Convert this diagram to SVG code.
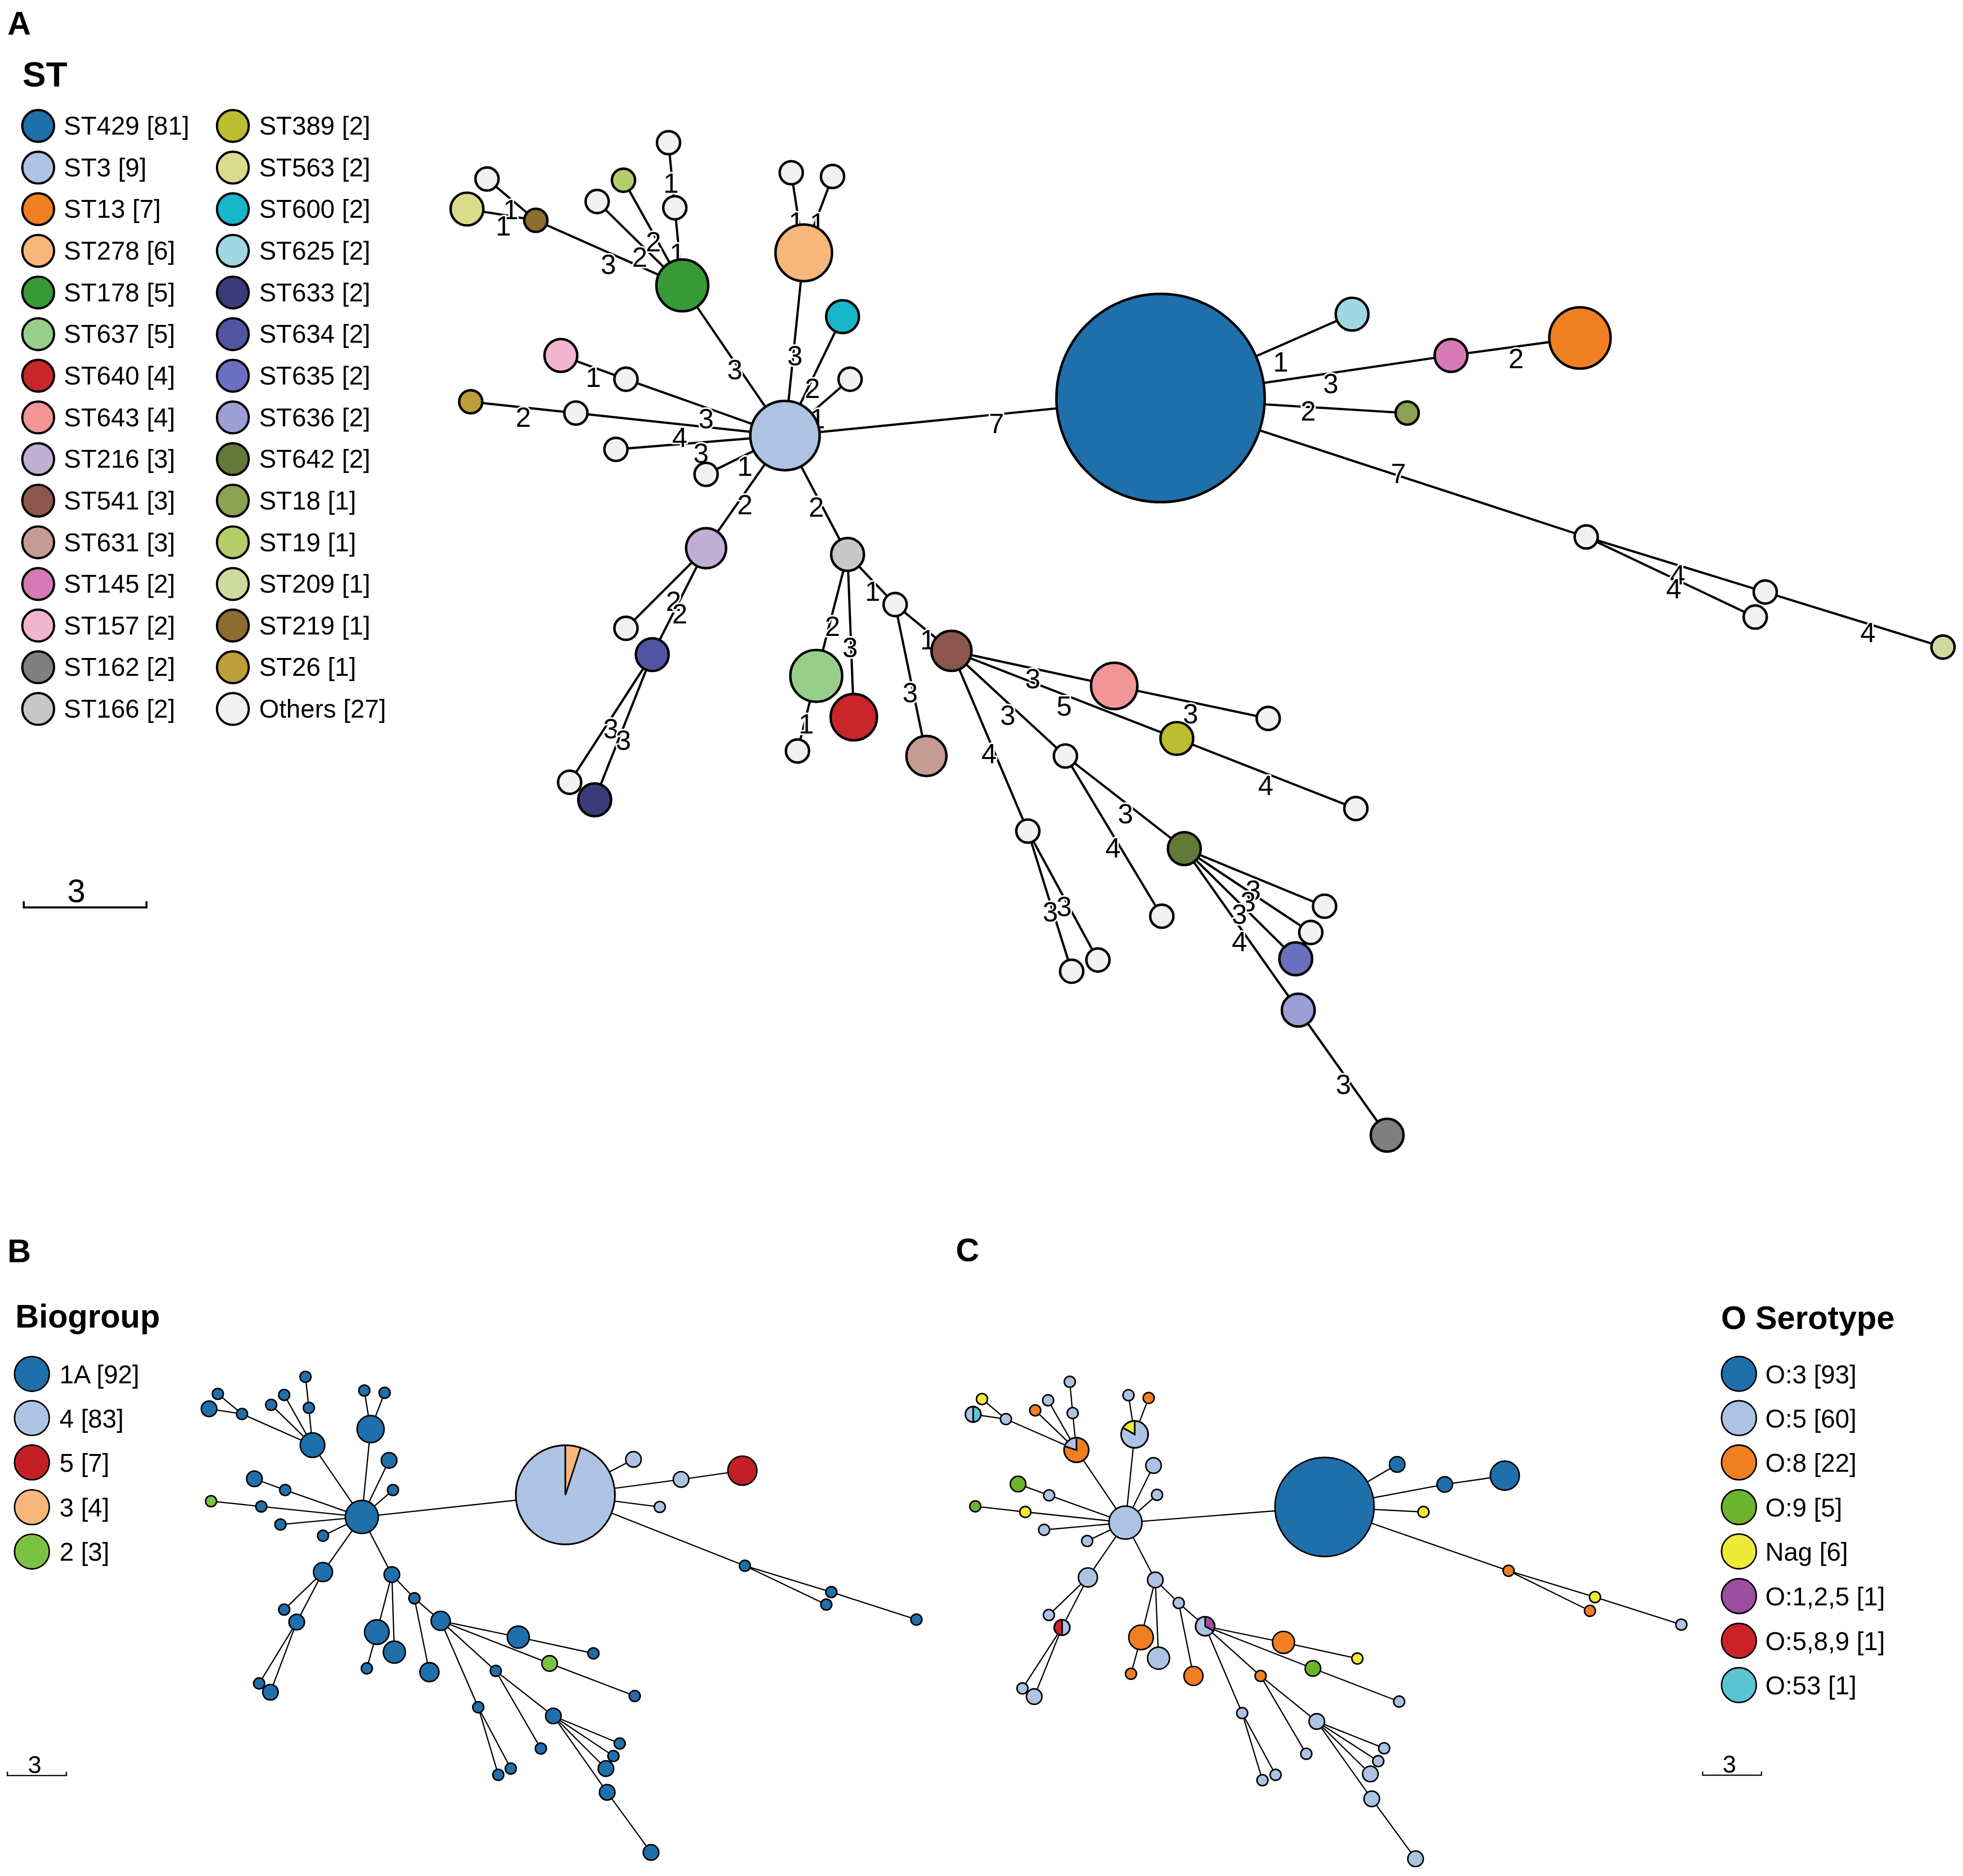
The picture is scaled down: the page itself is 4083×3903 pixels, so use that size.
<svg xmlns="http://www.w3.org/2000/svg" width="4083" height="3903" viewBox="0 0 4083 3903">
<style>
text{font-family:"Liberation Sans",Arial,Helvetica,sans-serif;fill:#000}
.h{font-weight:bold}
.pl{font-size:26px;font-weight:bold}
.lg{font-size:20.5px}
.el{font-size:22px;text-anchor:middle;stroke:#fff;stroke-width:2.5px;paint-order:stroke;stroke-linejoin:round}
.sb{font-size:19.5px;text-anchor:middle}
.ea line{stroke:#000;stroke-width:1.8}
.eb line{stroke:#000;stroke-width:1}
.na circle{stroke:#000;stroke-width:2}
.nb circle,.nb path{stroke:#000;stroke-width:1.2}
.lga circle{stroke:#000;stroke-width:1.8}
.lgb circle{stroke:#000;stroke-width:1.2}
.bar{fill:none;stroke:#000}
.c429{fill:#1f6fab}.c3{fill:#adc3e3}.c13{fill:#f07f22}.c278{fill:#f7b77a}.c178{fill:#379a37}.c637{fill:#97ce8a}
.c640{fill:#c8262a}.c643{fill:#f29597}.c216{fill:#c0aed3}.c541{fill:#8b574c}.c631{fill:#c49c94}.c145{fill:#d57ab6}
.c157{fill:#f2b5d1}.c162{fill:#7f7f7f}.c166{fill:#c7c7c7}.c389{fill:#bcbd32}.c563{fill:#dbdb8e}.c600{fill:#18b6c9}
.c625{fill:#9fd7e2}.c633{fill:#393c78}.c634{fill:#5155a1}.c635{fill:#6a6fbf}.c636{fill:#9b9fd5}.c642{fill:#637938}
.c18{fill:#8ba252}.c19{fill:#b5cd6a}.c209{fill:#cfdb9d}.c219{fill:#8d6c32}.c26{fill:#bd9e3a}.cot{fill:#f1f1f1}
.cb{fill:#1f6fab}.clb{fill:#adc3e4}.cr5{fill:#c41f26}.c3o{fill:#f7b77a}.cg2{fill:#7dc142}
.co8{fill:#f07f22}.cg9{fill:#6cb42e}.cy{fill:#eeea3a}.cp{fill:#9b4f9f}.cr{fill:#cb2229}.cc{fill:#5ac4d3}
</style>
<rect width="4083" height="3903" fill="#fff"/>
<g transform="scale(2.604)">

<!-- ================= PANEL A ================= -->
<text class="pl" x="6" y="27.5">A</text>
<text class="h" x="18" y="69" font-size="28">ST</text>
<g id="a-legend" class="lga">
<g class="c429"><circle cx="30.5" cy="100.6" r="12.7"/></g><text class="lg" x="51" y="107.6">ST429 [81]</text>
<g class="c3"><circle cx="30.5" cy="133.9" r="12.7"/></g><text class="lg" x="51" y="140.9">ST3 [9]</text>
<g class="c13"><circle cx="30.5" cy="167.1" r="12.7"/></g><text class="lg" x="51" y="174.1">ST13 [7]</text>
<g class="c278"><circle cx="30.5" cy="200.4" r="12.7"/></g><text class="lg" x="51" y="207.4">ST278 [6]</text>
<g class="c178"><circle cx="30.5" cy="233.7" r="12.7"/></g><text class="lg" x="51" y="240.7">ST178 [5]</text>
<g class="c637"><circle cx="30.5" cy="267" r="12.7"/></g><text class="lg" x="51" y="274">ST637 [5]</text>
<g class="c640"><circle cx="30.5" cy="300.2" r="12.7"/></g><text class="lg" x="51" y="307.2">ST640 [4]</text>
<g class="c643"><circle cx="30.5" cy="333.5" r="12.7"/></g><text class="lg" x="51" y="340.5">ST643 [4]</text>
<g class="c216"><circle cx="30.5" cy="366.8" r="12.7"/></g><text class="lg" x="51" y="373.8">ST216 [3]</text>
<g class="c541"><circle cx="30.5" cy="400" r="12.7"/></g><text class="lg" x="51" y="407">ST541 [3]</text>
<g class="c631"><circle cx="30.5" cy="433.3" r="12.7"/></g><text class="lg" x="51" y="440.3">ST631 [3]</text>
<g class="c145"><circle cx="30.5" cy="466.6" r="12.7"/></g><text class="lg" x="51" y="473.6">ST145 [2]</text>
<g class="c157"><circle cx="30.5" cy="499.8" r="12.7"/></g><text class="lg" x="51" y="506.8">ST157 [2]</text>
<g class="c162"><circle cx="30.5" cy="533.1" r="12.7"/></g><text class="lg" x="51" y="540.1">ST162 [2]</text>
<g class="c166"><circle cx="30.5" cy="566.4" r="12.7"/></g><text class="lg" x="51" y="573.4">ST166 [2]</text>
<g class="c389"><circle cx="186" cy="100.6" r="12.7"/></g><text class="lg" x="207" y="107.6">ST389 [2]</text>
<g class="c563"><circle cx="186" cy="133.9" r="12.7"/></g><text class="lg" x="207" y="140.9">ST563 [2]</text>
<g class="c600"><circle cx="186" cy="167.1" r="12.7"/></g><text class="lg" x="207" y="174.1">ST600 [2]</text>
<g class="c625"><circle cx="186" cy="200.4" r="12.7"/></g><text class="lg" x="207" y="207.4">ST625 [2]</text>
<g class="c633"><circle cx="186" cy="233.7" r="12.7"/></g><text class="lg" x="207" y="240.7">ST633 [2]</text>
<g class="c634"><circle cx="186" cy="267" r="12.7"/></g><text class="lg" x="207" y="274">ST634 [2]</text>
<g class="c635"><circle cx="186" cy="300.2" r="12.7"/></g><text class="lg" x="207" y="307.2">ST635 [2]</text>
<g class="c636"><circle cx="186" cy="333.5" r="12.7"/></g><text class="lg" x="207" y="340.5">ST636 [2]</text>
<g class="c642"><circle cx="186" cy="366.8" r="12.7"/></g><text class="lg" x="207" y="373.8">ST642 [2]</text>
<g class="c18"><circle cx="186" cy="400" r="12.7"/></g><text class="lg" x="207" y="407">ST18 [1]</text>
<g class="c19"><circle cx="186" cy="433.3" r="12.7"/></g><text class="lg" x="207" y="440.3">ST19 [1]</text>
<g class="c209"><circle cx="186" cy="466.6" r="12.7"/></g><text class="lg" x="207" y="473.6">ST209 [1]</text>
<g class="c219"><circle cx="186" cy="499.8" r="12.7"/></g><text class="lg" x="207" y="506.8">ST219 [1]</text>
<g class="c26"><circle cx="186" cy="533.1" r="12.7"/></g><text class="lg" x="207" y="540.1">ST26 [1]</text>
<g class="cot"><circle cx="186" cy="566.4" r="12.7"/></g><text class="lg" x="207" y="573.4">Others [27]</text>
</g>
<g id="a-scale">
<text x="61" y="721" font-size="26" text-anchor="middle">3</text>
<path class="bar" stroke-width="1.6" d="M19,720 L19,725 L117,725 L117,720"/>
</g>

<g id="a-edges" class="ea">
<line x1="627" y1="348" x2="927" y2="318"/>
<line x1="627" y1="348" x2="545" y2="228"/>
<line x1="627" y1="348" x2="642" y2="202"/>
<line x1="627" y1="348" x2="673" y2="253"/>
<line x1="627" y1="348" x2="679" y2="303"/>
<line x1="627" y1="348" x2="500" y2="303"/>
<line x1="627" y1="348" x2="460" y2="330"/>
<line x1="627" y1="348" x2="492" y2="359"/>
<line x1="627" y1="348" x2="564" y2="379"/>
<line x1="627" y1="348" x2="564" y2="438"/>
<line x1="627" y1="348" x2="677" y2="443"/>
<line x1="545" y1="228" x2="428" y2="176"/>
<line x1="545" y1="228" x2="477" y2="161"/>
<line x1="545" y1="228" x2="498" y2="144"/>
<line x1="545" y1="228" x2="539" y2="166"/>
<line x1="539" y1="166" x2="534" y2="114"/>
<line x1="428" y1="176" x2="389" y2="143"/>
<line x1="428" y1="176" x2="373" y2="167"/>
<line x1="642" y1="202" x2="632" y2="138"/>
<line x1="642" y1="202" x2="665" y2="141"/>
<line x1="500" y1="303" x2="448" y2="284"/>
<line x1="460" y1="330" x2="376" y2="321"/>
<line x1="564" y1="438" x2="500" y2="502"/>
<line x1="564" y1="438" x2="521" y2="523"/>
<line x1="521" y1="523" x2="455" y2="625"/>
<line x1="521" y1="523" x2="475" y2="639"/>
<line x1="677" y1="443" x2="652" y2="540"/>
<line x1="677" y1="443" x2="682" y2="573"/>
<line x1="677" y1="443" x2="715" y2="483"/>
<line x1="652" y1="540" x2="637" y2="600"/>
<line x1="715" y1="483" x2="760" y2="520"/>
<line x1="715" y1="483" x2="740" y2="604"/>
<line x1="760" y1="520" x2="890" y2="548"/>
<line x1="760" y1="520" x2="940" y2="590"/>
<line x1="760" y1="520" x2="851" y2="604"/>
<line x1="760" y1="520" x2="821" y2="664"/>
<line x1="890" y1="548" x2="1013" y2="574"/>
<line x1="940" y1="590" x2="1083" y2="646"/>
<line x1="851" y1="604" x2="946" y2="678"/>
<line x1="851" y1="604" x2="928" y2="732"/>
<line x1="821" y1="664" x2="856" y2="776"/>
<line x1="821" y1="664" x2="877" y2="767"/>
<line x1="946" y1="678" x2="1058" y2="724"/>
<line x1="946" y1="678" x2="1047" y2="745"/>
<line x1="946" y1="678" x2="1035" y2="766"/>
<line x1="946" y1="678" x2="1037" y2="807"/>
<line x1="1037" y1="807" x2="1108" y2="907"/>
<line x1="927" y1="318" x2="1080" y2="251"/>
<line x1="927" y1="318" x2="1159" y2="284"/>
<line x1="927" y1="318" x2="1124" y2="330"/>
<line x1="927" y1="318" x2="1267" y2="429"/>
<line x1="1159" y1="284" x2="1262" y2="270"/>
<line x1="1267" y1="429" x2="1410" y2="473"/>
<line x1="1267" y1="429" x2="1402" y2="493"/>
<line x1="1410" y1="473" x2="1552" y2="517"/>
</g>
<g id="a-edge-labels">
<text class="el" x="796" y="346">7</text>
<text class="el" x="587" y="303">3</text>
<text class="el" x="635" y="292">3</text>
<text class="el" x="649" y="318">2</text>
<text class="el" x="653" y="342">1</text>
<text class="el" x="564" y="342">3</text>
<text class="el" x="543" y="357">4</text>
<text class="el" x="560" y="370">3</text>
<text class="el" x="595" y="380">1</text>
<text class="el" x="595" y="411">2</text>
<text class="el" x="652" y="413">2</text>
<text class="el" x="486" y="219">3</text>
<text class="el" x="511" y="213">2</text>
<text class="el" x="522" y="201">2</text>
<text class="el" x="541" y="210">1</text>
<text class="el" x="536" y="154">1</text>
<text class="el" x="408" y="175">1</text>
<text class="el" x="402" y="188">1</text>
<text class="el" x="636" y="185">1</text>
<text class="el" x="653" y="186">1</text>
<text class="el" x="474" y="309">1</text>
<text class="el" x="418" y="341">2</text>
<text class="el" x="538" y="488">2</text>
<text class="el" x="543" y="498">2</text>
<text class="el" x="488" y="590">3</text>
<text class="el" x="498" y="599">3</text>
<text class="el" x="665" y="508">2</text>
<text class="el" x="679" y="525">3</text>
<text class="el" x="697" y="480">1</text>
<text class="el" x="644" y="586">1</text>
<text class="el" x="741" y="519">1</text>
<text class="el" x="727" y="561">3</text>
<text class="el" x="825" y="550">3</text>
<text class="el" x="850" y="572">5</text>
<text class="el" x="805" y="579">3</text>
<text class="el" x="790" y="610">4</text>
<text class="el" x="951" y="578">3</text>
<text class="el" x="1011" y="635">4</text>
<text class="el" x="899" y="658">3</text>
<text class="el" x="889" y="685">4</text>
<text class="el" x="839" y="736">3</text>
<text class="el" x="850" y="732">3</text>
<text class="el" x="1001" y="719">3</text>
<text class="el" x="997" y="728">3</text>
<text class="el" x="990" y="738">3</text>
<text class="el" x="990" y="760">4</text>
<text class="el" x="1073" y="874">3</text>
<text class="el" x="1023" y="297">1</text>
<text class="el" x="1063" y="314">3</text>
<text class="el" x="1045" y="336">2</text>
<text class="el" x="1117" y="386">7</text>
<text class="el" x="1211" y="294">2</text>
<text class="el" x="1340" y="467">4</text>
<text class="el" x="1337" y="478">4</text>
<text class="el" x="1492" y="513">4</text>
</g>
<g id="a-nodes" class="na">
<g id="a-w679" class="cot"><circle cx="679" cy="303" r="9.24"/></g>
<g id="a-w500" class="cot"><circle cx="500" cy="303" r="9.24"/></g>
<g id="a-w460" class="cot"><circle cx="460" cy="330" r="9.24"/></g>
<g id="a-w493" class="cot"><circle cx="492" cy="359" r="9.24"/></g>
<g id="a-w564" class="cot"><circle cx="564" cy="379" r="9.24"/></g>
<g id="a-w499" class="cot"><circle cx="500" cy="502" r="9.24"/></g>
<g id="a-w455" class="cot"><circle cx="455" cy="625" r="9.24"/></g>
<g id="a-w637" class="cot"><circle cx="637" cy="600" r="9.24"/></g>
<g id="a-w715" class="cot"><circle cx="715" cy="483" r="9.24"/></g>
<g id="a-w1013" class="cot"><circle cx="1013" cy="574" r="9.24"/></g>
<g id="a-w1083" class="cot"><circle cx="1083" cy="646" r="9.24"/></g>
<g id="a-w851" class="cot"><circle cx="851" cy="604" r="9.24"/></g>
<g id="a-w821" class="cot"><circle cx="821" cy="664" r="9.24"/></g>
<g id="a-w856" class="cot"><circle cx="856" cy="776" r="9.24"/></g>
<g id="a-w877" class="cot"><circle cx="877" cy="767" r="9.24"/></g>
<g id="a-w928" class="cot"><circle cx="928" cy="732" r="9.24"/></g>
<g id="a-w1058" class="cot"><circle cx="1058" cy="724" r="9.24"/></g>
<g id="a-w1047" class="cot"><circle cx="1047" cy="745" r="9.24"/></g>
<g id="a-w1267" class="cot"><circle cx="1267" cy="429" r="9.24"/></g>
<g id="a-w1410" class="cot"><circle cx="1410" cy="473" r="9.24"/></g>
<g id="a-w1402" class="cot"><circle cx="1402" cy="493" r="9.24"/></g>
<g id="a-w389" class="cot"><circle cx="389" cy="143" r="9.24"/></g>
<g id="a-w477" class="cot"><circle cx="477" cy="161" r="9.24"/></g>
<g id="a-w534" class="cot"><circle cx="534" cy="114" r="9.24"/></g>
<g id="a-w539" class="cot"><circle cx="539" cy="166" r="9.24"/></g>
<g id="a-w632" class="cot"><circle cx="632" cy="138" r="9.24"/></g>
<g id="a-w664" class="cot"><circle cx="665" cy="141" r="9.24"/></g>
<g id="a-st429" class="c429"><circle cx="927" cy="318" r="83.2"/></g>
<g id="a-st3" class="c3"><circle cx="627" cy="348" r="27.7"/></g>
<g id="a-st13" class="c13"><circle cx="1262" cy="270" r="24.5"/></g>
<g id="a-st278" class="c278"><circle cx="642" cy="202" r="22.6"/></g>
<g id="a-st178" class="c178"><circle cx="545" cy="228" r="20.7"/></g>
<g id="a-st637" class="c637"><circle cx="652" cy="540" r="20.7"/></g>
<g id="a-st640" class="c640"><circle cx="682" cy="573" r="18.5"/></g>
<g id="a-st643" class="c643"><circle cx="890" cy="548" r="18.5"/></g>
<g id="a-st216" class="c216"><circle cx="564" cy="438" r="16"/></g>
<g id="a-st541" class="c541"><circle cx="760" cy="520" r="16"/></g>
<g id="a-st631" class="c631"><circle cx="740" cy="604" r="16"/></g>
<g id="a-st145" class="c145"><circle cx="1159" cy="284" r="13.1"/></g>
<g id="a-st157" class="c157"><circle cx="448" cy="284" r="13.1"/></g>
<g id="a-st162" class="c162"><circle cx="1108" cy="907" r="13.1"/></g>
<g id="a-st166" class="c166"><circle cx="677" cy="443" r="13.1"/></g>
<g id="a-st389" class="c389"><circle cx="940" cy="590" r="13.1"/></g>
<g id="a-st563" class="c563"><circle cx="373" cy="167" r="13.1"/></g>
<g id="a-st600" class="c600"><circle cx="673" cy="253" r="13.1"/></g>
<g id="a-st625" class="c625"><circle cx="1080" cy="251" r="13.1"/></g>
<g id="a-st633" class="c633"><circle cx="475" cy="639" r="13.1"/></g>
<g id="a-st634" class="c634"><circle cx="521" cy="523" r="13.1"/></g>
<g id="a-st635" class="c635"><circle cx="1035" cy="766" r="13.1"/></g>
<g id="a-st636" class="c636"><circle cx="1037" cy="807" r="13.1"/></g>
<g id="a-st642" class="c642"><circle cx="946" cy="678" r="13.1"/></g>
<g id="a-st18" class="c18"><circle cx="1124" cy="330" r="9.24"/></g>
<g id="a-st19" class="c19"><circle cx="498" cy="144" r="9.24"/></g>
<g id="a-st209" class="c209"><circle cx="1552" cy="517" r="9.24"/></g>
<g id="a-st219" class="c219"><circle cx="428" cy="176" r="9.24"/></g>
<g id="a-st26" class="c26"><circle cx="376" cy="321" r="9.24"/></g>
</g>

<!-- ================= PANEL B ================= -->
<text class="pl" x="6" y="1008.5">B</text>
<text class="h" x="12.3" y="1060.5" font-size="26">Biogroup</text>
<g id="b-legend" class="lgb">
<g class="cb"><circle cx="25.5" cy="1097.7" r="13.9"/></g><text class="lg" x="47.5" y="1105.2">1A [92]</text>
<g class="clb"><circle cx="25.5" cy="1133" r="13.9"/></g><text class="lg" x="47.5" y="1140.5">4 [83]</text>
<g class="cr5"><circle cx="25.5" cy="1168.4" r="13.9"/></g><text class="lg" x="47.5" y="1175.9">5 [7]</text>
<g class="c3o"><circle cx="25.5" cy="1204.2" r="13.9"/></g><text class="lg" x="47.5" y="1211.7">3 [4]</text>
<g class="cg2"><circle cx="25.5" cy="1239.6" r="13.9"/></g><text class="lg" x="47.5" y="1247.1">2 [3]</text>
</g>
<g id="b-scale">
<text class="sb" x="27.7" y="1416.5">3</text>
<path class="bar" stroke-width="1" d="M5.9,1415.5 L5.9,1418.6 L53,1418.6 L53,1415.5"/>
</g>
<g id="b-edges" class="eb">
<line x1="289" y1="1212" x2="451.6" y2="1194.3"/>
<line x1="289" y1="1212" x2="249.6" y2="1154.6"/>
<line x1="289" y1="1212" x2="296" y2="1141.8"/>
<line x1="289" y1="1212" x2="310.8" y2="1166.8"/>
<line x1="289" y1="1212" x2="313.9" y2="1190.5"/>
<line x1="289" y1="1212" x2="227.8" y2="1190.5"/>
<line x1="289" y1="1212" x2="208.7" y2="1203.6"/>
<line x1="289" y1="1212" x2="224" y2="1218"/>
<line x1="289" y1="1212" x2="258" y2="1227"/>
<line x1="289" y1="1212" x2="258" y2="1256"/>
<line x1="289" y1="1212" x2="313" y2="1258"/>
<line x1="249.6" y1="1154.6" x2="193.3" y2="1129.7"/>
<line x1="249.6" y1="1154.6" x2="216.6" y2="1122.4"/>
<line x1="249.6" y1="1154.6" x2="227" y2="1114.5"/>
<line x1="249.6" y1="1154.6" x2="246.7" y2="1124.8"/>
<line x1="246.7" y1="1124.8" x2="244" y2="1100"/>
<line x1="193.3" y1="1129.7" x2="174" y2="1113.7"/>
<line x1="193.3" y1="1129.7" x2="167" y2="1125.6"/>
<line x1="296" y1="1141.8" x2="291" y2="1111"/>
<line x1="296" y1="1141.8" x2="307.2" y2="1112.8"/>
<line x1="227.8" y1="1190.5" x2="203.2" y2="1181.5"/>
<line x1="208.7" y1="1203.6" x2="168.6" y2="1199.4"/>
<line x1="258" y1="1256" x2="227" y2="1286"/>
<line x1="258" y1="1256" x2="237" y2="1296"/>
<line x1="237" y1="1296" x2="207" y2="1345"/>
<line x1="237" y1="1296" x2="216" y2="1352"/>
<line x1="313" y1="1258" x2="301" y2="1304"/>
<line x1="313" y1="1258" x2="315" y2="1320"/>
<line x1="313" y1="1258" x2="331" y2="1277"/>
<line x1="301" y1="1304" x2="293" y2="1333"/>
<line x1="331" y1="1277" x2="352" y2="1295"/>
<line x1="331" y1="1277" x2="343" y2="1336"/>
<line x1="352" y1="1295" x2="414" y2="1308"/>
<line x1="352" y1="1295" x2="439" y2="1329"/>
<line x1="352" y1="1295" x2="396" y2="1335"/>
<line x1="352" y1="1295" x2="382" y2="1364"/>
<line x1="414" y1="1308" x2="474" y2="1321"/>
<line x1="439" y1="1329" x2="507" y2="1355"/>
<line x1="396" y1="1335" x2="442" y2="1371"/>
<line x1="396" y1="1335" x2="432" y2="1397"/>
<line x1="382" y1="1364" x2="398" y2="1418"/>
<line x1="382" y1="1364" x2="408" y2="1413"/>
<line x1="442" y1="1371" x2="495" y2="1393"/>
<line x1="442" y1="1371" x2="490" y2="1403"/>
<line x1="442" y1="1371" x2="484" y2="1413"/>
<line x1="442" y1="1371" x2="485" y2="1432"/>
<line x1="485" y1="1432" x2="520" y2="1480"/>
<line x1="451.6" y1="1194.3" x2="506" y2="1166"/>
<line x1="451.6" y1="1194.3" x2="544" y2="1182"/>
<line x1="451.6" y1="1194.3" x2="527" y2="1204"/>
<line x1="451.6" y1="1194.3" x2="595" y2="1251"/>
<line x1="544" y1="1182" x2="593" y2="1175"/>
<line x1="595" y1="1251" x2="664" y2="1272"/>
<line x1="595" y1="1251" x2="660" y2="1282"/>
<line x1="664" y1="1272" x2="732" y2="1294"/>
</g>
<g id="b-nodes" class="nb">
<g id="b-w679" class="cb"><circle cx="313.9" cy="1190.5" r="4.4"/></g>
<g id="b-w500" class="cb"><circle cx="227.8" cy="1190.5" r="4.4"/></g>
<g id="b-w460" class="cb"><circle cx="208.7" cy="1203.6" r="4.4"/></g>
<g id="b-w493" class="cb"><circle cx="224" cy="1218" r="4.4"/></g>
<g id="b-w564" class="cb"><circle cx="258" cy="1227" r="4.4"/></g>
<g id="b-w499" class="cb"><circle cx="227" cy="1286" r="4.4"/></g>
<g id="b-w455" class="cb"><circle cx="207" cy="1345" r="4.4"/></g>
<g id="b-w637" class="cb"><circle cx="293" cy="1333" r="4.4"/></g>
<g id="b-w715" class="cb"><circle cx="331" cy="1277" r="4.4"/></g>
<g id="b-w1013" class="cb"><circle cx="474" cy="1321" r="4.4"/></g>
<g id="b-w1083" class="cb"><circle cx="507" cy="1355" r="4.4"/></g>
<g id="b-w851" class="cb"><circle cx="396" cy="1335" r="4.4"/></g>
<g id="b-w821" class="cb"><circle cx="382" cy="1364" r="4.4"/></g>
<g id="b-w856" class="cb"><circle cx="398" cy="1418" r="4.4"/></g>
<g id="b-w877" class="cb"><circle cx="408" cy="1413" r="4.4"/></g>
<g id="b-w928" class="cb"><circle cx="432" cy="1397" r="4.4"/></g>
<g id="b-w1058" class="cb"><circle cx="495" cy="1393" r="4.4"/></g>
<g id="b-w1047" class="cb"><circle cx="490" cy="1403" r="4.4"/></g>
<g id="b-w1267" class="cb"><circle cx="595" cy="1251" r="4.4"/></g>
<g id="b-w1410" class="cb"><circle cx="664" cy="1272" r="4.4"/></g>
<g id="b-w1402" class="cb"><circle cx="660" cy="1282" r="4.4"/></g>
<g id="b-w389" class="cb"><circle cx="174" cy="1113.7" r="4.4"/></g>
<g id="b-w477" class="cb"><circle cx="216.6" cy="1122.4" r="4.4"/></g>
<g id="b-w534" class="cb"><circle cx="244" cy="1100" r="4.4"/></g>
<g id="b-w539" class="cb"><circle cx="246.7" cy="1124.8" r="4.4"/></g>
<g id="b-w632" class="cb"><circle cx="291" cy="1111" r="4.4"/></g>
<g id="b-w664" class="cb"><circle cx="307.2" cy="1112.8" r="4.4"/></g>
<g id="b-st429">
<path class="clb" d="M451.6,1194.3 L463.84,1156.64 A39.6,39.6 0 1 1 451.6,1154.7 Z"/>
<path class="c3o" d="M451.6,1194.3 L451.6,1154.7 A39.6,39.6 0 0 1 463.84,1156.64 Z"/>
<circle cx="451.6" cy="1194.3" r="39.6" fill="none"/>
</g>
<g id="b-st3" class="cb"><circle cx="289" cy="1212" r="13.2"/></g>
<g id="b-st13" class="cr5"><circle cx="593" cy="1175" r="11.6"/></g>
<g id="b-st278" class="cb"><circle cx="296" cy="1141.8" r="10.8"/></g>
<g id="b-st178" class="cb"><circle cx="249.6" cy="1154.6" r="9.8"/></g>
<g id="b-st637" class="cb"><circle cx="301" cy="1304" r="9.8"/></g>
<g id="b-st640" class="cb"><circle cx="315" cy="1320" r="8.8"/></g>
<g id="b-st643" class="cb"><circle cx="414" cy="1308" r="8.8"/></g>
<g id="b-st216" class="cb"><circle cx="258" cy="1256" r="7.6"/></g>
<g id="b-st541" class="cb"><circle cx="352" cy="1295" r="7.6"/></g>
<g id="b-st631" class="cb"><circle cx="343" cy="1336" r="7.6"/></g>
<g id="b-st145" class="clb"><circle cx="544" cy="1182" r="6.2"/></g>
<g id="b-st157" class="cb"><circle cx="203.2" cy="1181.5" r="6.2"/></g>
<g id="b-st162" class="cb"><circle cx="520" cy="1480" r="6.2"/></g>
<g id="b-st166" class="cb"><circle cx="313" cy="1258" r="6.2"/></g>
<g id="b-st389" class="cg2"><circle cx="439" cy="1329" r="6.2"/></g>
<g id="b-st563" class="cb"><circle cx="167" cy="1125.6" r="6.2"/></g>
<g id="b-st600" class="cb"><circle cx="310.8" cy="1166.8" r="6.2"/></g>
<g id="b-st625" class="clb"><circle cx="506" cy="1166" r="6.2"/></g>
<g id="b-st633" class="cb"><circle cx="216" cy="1352" r="6.2"/></g>
<g id="b-st634" class="cb"><circle cx="237" cy="1296" r="6.2"/></g>
<g id="b-st635" class="cb"><circle cx="484" cy="1413" r="6.2"/></g>
<g id="b-st636" class="cb"><circle cx="485" cy="1432" r="6.2"/></g>
<g id="b-st642" class="cb"><circle cx="442" cy="1371" r="6.2"/></g>
<g id="b-st18" class="clb"><circle cx="527" cy="1204" r="4.4"/></g>
<g id="b-st19" class="cb"><circle cx="227" cy="1114.5" r="4.4"/></g>
<g id="b-st209" class="cb"><circle cx="732" cy="1294" r="4.4"/></g>
<g id="b-st219" class="cb"><circle cx="193.3" cy="1129.7" r="4.4"/></g>
<g id="b-st26" class="cg2"><circle cx="168.6" cy="1199.4" r="4.4"/></g>
</g>

<!-- ================= PANEL C ================= -->
<text class="pl" x="763.4" y="1007.8">C</text>
<text class="h" x="1374.7" y="1062" font-size="26">O Serotype</text>
<g id="c-legend" class="lgb">
<g class="cb"><circle cx="1389" cy="1097.6" r="13.9"/></g><text class="lg" x="1410" y="1105.1">O:3 [93]</text>
<g class="clb"><circle cx="1389" cy="1133" r="13.9"/></g><text class="lg" x="1410" y="1140.5">O:5 [60]</text>
<g class="co8"><circle cx="1389" cy="1168.4" r="13.9"/></g><text class="lg" x="1410" y="1175.9">O:8 [22]</text>
<g class="cg9"><circle cx="1389" cy="1204.1" r="13.9"/></g><text class="lg" x="1410" y="1211.6">O:9 [5]</text>
<g class="cy"><circle cx="1389" cy="1239.5" r="13.9"/></g><text class="lg" x="1410" y="1247">Nag [6]</text>
<g class="cp"><circle cx="1389" cy="1275.2" r="13.9"/></g><text class="lg" x="1410" y="1282.7">O:1,2,5 [1]</text>
<g class="cr"><circle cx="1389" cy="1310.9" r="13.9"/></g><text class="lg" x="1410" y="1318.4">O:5,8,9 [1]</text>
<g class="cc"><circle cx="1389" cy="1346.3" r="13.9"/></g><text class="lg" x="1410" y="1353.8">O:53 [1]</text>
</g>
<g id="c-scale">
<text class="sb" x="1381.4" y="1416.4">3</text>
<path class="bar" stroke-width="1" d="M1360,1415.3 L1360,1418.3 L1407,1418.3 L1407,1415.3"/>
</g>
<g id="c-edges" class="eb">
<line x1="899" y1="1216.5" x2="1058" y2="1204"/>
<line x1="899" y1="1216.5" x2="859.8" y2="1158.5"/>
<line x1="899" y1="1216.5" x2="906.3" y2="1146"/>
<line x1="899" y1="1216.5" x2="921.4" y2="1170.9"/>
<line x1="899" y1="1216.5" x2="924.2" y2="1194.3"/>
<line x1="899" y1="1216.5" x2="838" y2="1194.7"/>
<line x1="899" y1="1216.5" x2="819" y2="1208"/>
<line x1="899" y1="1216.5" x2="834" y2="1222.3"/>
<line x1="899" y1="1216.5" x2="868.4" y2="1231.2"/>
<line x1="899" y1="1216.5" x2="869" y2="1260.3"/>
<line x1="899" y1="1216.5" x2="922.8" y2="1262.3"/>
<line x1="859.8" y1="1158.5" x2="803.5" y2="1133.8"/>
<line x1="859.8" y1="1158.5" x2="826.9" y2="1126.8"/>
<line x1="859.8" y1="1158.5" x2="837.2" y2="1118.8"/>
<line x1="859.8" y1="1158.5" x2="856.8" y2="1129"/>
<line x1="856.8" y1="1129" x2="854.5" y2="1104"/>
<line x1="803.5" y1="1133.8" x2="784.4" y2="1117.8"/>
<line x1="803.5" y1="1133.8" x2="777.3" y2="1130"/>
<line x1="906.3" y1="1146" x2="901.4" y2="1114.7"/>
<line x1="906.3" y1="1146" x2="917.5" y2="1116.9"/>
<line x1="838" y1="1194.7" x2="813.2" y2="1185.7"/>
<line x1="819" y1="1208" x2="779" y2="1203.5"/>
<line x1="869" y1="1260.3" x2="837.8" y2="1290.3"/>
<line x1="869" y1="1260.3" x2="848.3" y2="1300.3"/>
<line x1="848.3" y1="1300.3" x2="816.7" y2="1349"/>
<line x1="848.3" y1="1300.3" x2="826.1" y2="1355.5"/>
<line x1="922.8" y1="1262.3" x2="911.4" y2="1308.2"/>
<line x1="922.8" y1="1262.3" x2="925.4" y2="1324.8"/>
<line x1="922.8" y1="1262.3" x2="941.5" y2="1280.7"/>
<line x1="911.4" y1="1308.2" x2="903.4" y2="1337.3"/>
<line x1="941.5" y1="1280.7" x2="962.6" y2="1299.3"/>
<line x1="941.5" y1="1280.7" x2="953.3" y2="1339"/>
<line x1="962.6" y1="1299.3" x2="1025.2" y2="1312.2"/>
<line x1="962.6" y1="1299.3" x2="1048.7" y2="1333"/>
<line x1="962.6" y1="1299.3" x2="1006.9" y2="1339"/>
<line x1="962.6" y1="1299.3" x2="992.2" y2="1368.7"/>
<line x1="1025.2" y1="1312.2" x2="1084.2" y2="1325.1"/>
<line x1="1048.7" y1="1333" x2="1117.6" y2="1359.5"/>
<line x1="1006.9" y1="1339" x2="1051.8" y2="1375.4"/>
<line x1="1006.9" y1="1339" x2="1043.4" y2="1401.2"/>
<line x1="992.2" y1="1368.7" x2="1008.4" y2="1422.3"/>
<line x1="992.2" y1="1368.7" x2="1018.9" y2="1418"/>
<line x1="1051.8" y1="1375.4" x2="1105.6" y2="1396.8"/>
<line x1="1051.8" y1="1375.4" x2="1100.9" y2="1407.1"/>
<line x1="1051.8" y1="1375.4" x2="1094.6" y2="1417.3"/>
<line x1="1051.8" y1="1375.4" x2="1095.7" y2="1437.2"/>
<line x1="1095.7" y1="1437.2" x2="1130.7" y2="1485.1"/>
<line x1="1058" y1="1204" x2="1116" y2="1170"/>
<line x1="1058" y1="1204" x2="1154" y2="1186"/>
<line x1="1058" y1="1204" x2="1137" y2="1208"/>
<line x1="1058" y1="1204" x2="1205" y2="1255"/>
<line x1="1154" y1="1186" x2="1202" y2="1179"/>
<line x1="1205" y1="1255" x2="1274" y2="1276"/>
<line x1="1205" y1="1255" x2="1270" y2="1287"/>
<line x1="1274" y1="1276" x2="1343" y2="1298"/>
</g>
<g id="c-nodes" class="nb">
<g id="c-w679" class="clb"><circle cx="924.2" cy="1194.3" r="4.4"/></g>
<g id="c-w500" class="clb"><circle cx="838" cy="1194.7" r="4.4"/></g>
<g id="c-w460" class="cy"><circle cx="819" cy="1208" r="4.4"/></g>
<g id="c-w493" class="clb"><circle cx="834" cy="1222.3" r="4.4"/></g>
<g id="c-w564" class="clb"><circle cx="868.4" cy="1231.2" r="4.4"/></g>
<g id="c-w499" class="clb"><circle cx="837.8" cy="1290.3" r="4.4"/></g>
<g id="c-w455" class="clb"><circle cx="816.7" cy="1349" r="4.4"/></g>
<g id="c-w637" class="co8"><circle cx="903.4" cy="1337.3" r="4.4"/></g>
<g id="c-w715" class="clb"><circle cx="941.5" cy="1280.7" r="4.4"/></g>
<g id="c-w1013" class="cy"><circle cx="1084.2" cy="1325.1" r="4.4"/></g>
<g id="c-w1083" class="clb"><circle cx="1117.6" cy="1359.5" r="4.4"/></g>
<g id="c-w851" class="co8"><circle cx="1006.9" cy="1339" r="4.4"/></g>
<g id="c-w821" class="clb"><circle cx="992.2" cy="1368.7" r="4.4"/></g>
<g id="c-w856" class="clb"><circle cx="1008.4" cy="1422.3" r="4.4"/></g>
<g id="c-w877" class="clb"><circle cx="1018.9" cy="1418" r="4.4"/></g>
<g id="c-w928" class="clb"><circle cx="1043.4" cy="1401.2" r="4.4"/></g>
<g id="c-w1058" class="clb"><circle cx="1105.6" cy="1396.8" r="4.4"/></g>
<g id="c-w1047" class="clb"><circle cx="1100.9" cy="1407.1" r="4.4"/></g>
<g id="c-w1267" class="co8"><circle cx="1205" cy="1255" r="4.4"/></g>
<g id="c-w1410" class="cy"><circle cx="1274" cy="1276" r="4.4"/></g>
<g id="c-w1402" class="co8"><circle cx="1270" cy="1287" r="4.4"/></g>
<g id="c-w389" class="cy"><circle cx="784.4" cy="1117.8" r="4.4"/></g>
<g id="c-w477" class="co8"><circle cx="826.9" cy="1126.8" r="4.4"/></g>
<g id="c-w534" class="clb"><circle cx="854.5" cy="1104" r="4.4"/></g>
<g id="c-w539" class="clb"><circle cx="856.8" cy="1129" r="4.4"/></g>
<g id="c-w632" class="clb"><circle cx="901.4" cy="1114.7" r="4.4"/></g>
<g id="c-w664" class="co8"><circle cx="917.5" cy="1116.9" r="4.4"/></g>
<g id="c-st429" class="cb"><circle cx="1058" cy="1204" r="39.6"/></g>
<g id="c-st3" class="clb"><circle cx="899" cy="1216.5" r="13.2"/></g>
<g id="c-st13" class="cb"><circle cx="1202" cy="1179" r="11.6"/></g>
<g id="c-st278">
<path class="clb" d="M906.3,1146 L906.3,1135.22 A10.78,10.78 0 1 1 896.96,1140.61 Z"/>
<path class="cy" d="M906.3,1146 L896.96,1140.61 A10.78,10.78 0 0 1 906.3,1135.22 Z"/>
<circle cx="906.3" cy="1146" r="10.78" fill="none"/>
</g>
<g id="c-st178">
<path class="co8" d="M859.8,1158.5 L859.8,1148.66 A9.84,9.84 0 1 1 850.44,1155.46 Z"/>
<path class="clb" d="M859.8,1158.5 L850.44,1155.46 A9.84,9.84 0 0 1 859.8,1148.66 Z"/>
<circle cx="859.8" cy="1158.5" r="9.84" fill="none"/>
</g>
<g id="c-st637" class="co8"><circle cx="911.4" cy="1308.2" r="9.8"/></g>
<g id="c-st640" class="clb"><circle cx="925.4" cy="1324.8" r="8.8"/></g>
<g id="c-st643" class="co8"><circle cx="1025.2" cy="1312.2" r="8.8"/></g>
<g id="c-st216" class="clb"><circle cx="869" cy="1260.3" r="7.6"/></g>
<g id="c-st541">
<path class="cp" d="M962.6,1299.3 L962.6,1291.68 A7.62,7.62 0 0 1 969.2,1303.11 Z"/>
<path class="clb" d="M962.6,1299.3 L969.2,1303.11 A7.62,7.62 0 1 1 962.6,1291.68 Z"/>
<circle cx="962.6" cy="1299.3" r="7.62" fill="none"/>
</g>
<g id="c-st631" class="co8"><circle cx="953.3" cy="1339" r="7.6"/></g>
<g id="c-st145" class="cb"><circle cx="1154" cy="1186" r="6.2"/></g>
<g id="c-st157" class="cg9"><circle cx="813.2" cy="1185.7" r="6.2"/></g>
<g id="c-st162" class="clb"><circle cx="1130.7" cy="1485.1" r="6.2"/></g>
<g id="c-st166" class="clb"><circle cx="922.8" cy="1262.3" r="6.2"/></g>
<g id="c-st389" class="cg9"><circle cx="1048.7" cy="1333" r="6.2"/></g>
<g id="c-st563">
<path class="cc" d="M777.3,1123.78 A6.22,6.22 0 0 1 777.3,1136.22 Z"/>
<path class="clb" d="M777.3,1136.22 A6.22,6.22 0 0 1 777.3,1123.78 Z"/>
<circle cx="777.3" cy="1130" r="6.22" fill="none"/>
</g>
<g id="c-st600" class="clb"><circle cx="921.4" cy="1170.9" r="6.2"/></g>
<g id="c-st625" class="cb"><circle cx="1116" cy="1170" r="6.2"/></g>
<g id="c-st633" class="clb"><circle cx="826.1" cy="1355.5" r="6.2"/></g>
<g id="c-st634">
<path class="clb" d="M848.3,1294.08 A6.22,6.22 0 0 1 848.3,1306.52 Z"/>
<path class="cr" d="M848.3,1306.52 A6.22,6.22 0 0 1 848.3,1294.08 Z"/>
<circle cx="848.3" cy="1300.3" r="6.22" fill="none"/>
</g>
<g id="c-st635" class="clb"><circle cx="1094.6" cy="1417.3" r="6.2"/></g>
<g id="c-st636" class="clb"><circle cx="1095.7" cy="1437.2" r="6.2"/></g>
<g id="c-st642" class="clb"><circle cx="1051.8" cy="1375.4" r="6.2"/></g>
<g id="c-st18" class="cy"><circle cx="1137" cy="1208" r="4.4"/></g>
<g id="c-st19" class="clb"><circle cx="837.2" cy="1118.8" r="4.4"/></g>
<g id="c-st209" class="clb"><circle cx="1343" cy="1298" r="4.4"/></g>
<g id="c-st219" class="clb"><circle cx="803.5" cy="1133.8" r="4.4"/></g>
<g id="c-st26" class="cg9"><circle cx="779" cy="1203.5" r="4.4"/></g>
</g>
</g>
</svg>
